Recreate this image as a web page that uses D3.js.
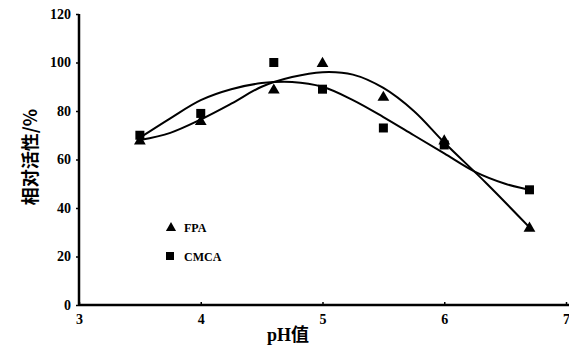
<!DOCTYPE html>
<html>
<head>
<meta charset="utf-8">
<script src="https://cdn.jsdelivr.net/npm/d3@7"></script>
<style>
  body { margin: 0; background: #fff; }
</style>
</head>
<body>
<div id="chart"></div>
<script>
// measured points
var ph = [3.5, 4, 4.6, 5, 5.5, 6, 6.7];
var fpa = [68, 76, 89, 100, 86, 68, 32];
var cmca = [70, 79, 100, 89, 73, 66, 47.5];

// trend lines
var fpaTrendX = [3.5, 3.75, 4, 4.25, 4.5, 4.75, 5, 5.25, 5.5, 5.75, 6, 6.35, 6.7];
var fpaTrendY = [68, 71, 76.5, 83, 90, 94, 96, 95, 89.5, 80, 67, 50, 32];
var cmcaTrendX = [3.5, 3.75, 4, 4.25, 4.5, 4.75, 5, 5.25, 5.5, 5.75, 6, 6.25, 6.5, 6.7];
var cmcaTrendY = [69, 77, 84.5, 89, 91.5, 92, 90, 84.5, 77.5, 70, 62.5, 55, 50, 47.5];

var xTicks = [3, 4, 5, 6, 7];
var yTicks = [0, 20, 40, 60, 80, 100, 120];

var w = 569, h = 351;
var mLeft = 79, mRight = 566, mTop = 14, mBottom = 305;
var tickFont = "Liberation Serif, serif";

var svg = d3.select("#chart").append("svg")
  .attr("width", w)
  .attr("height", h);

var x = d3.scaleLinear().domain([3, 7]).range([mLeft, mRight]);
var y = d3.scaleLinear().domain([0, 120]).range([mBottom, mTop]);

// axes
var xAxis = d3.axisBottom(x).tickValues(xTicks).tickSize(-3).tickPadding(9).tickFormat(d3.format("d"));
var yAxis = d3.axisLeft(y).tickValues(yTicks).tickSize(3).tickPadding(5);

var gx = svg.append("g")
  .attr("transform", "translate(0," + mBottom + ")")
  .call(xAxis);
gx.select(".domain").remove();
gx.selectAll(".tick line").attr("stroke-width", 1.5);

var gy = svg.append("g")
  .attr("transform", "translate(" + mLeft + ",0)")
  .call(yAxis);
gy.select(".domain").remove();
gy.selectAll(".tick line").attr("stroke-width", 1.5);

svg.selectAll(".tick text")
  .style("font-family", tickFont)
  .style("font-weight", "bold")
  .style("font-size", "14px");

svg.append("line")
  .attr("x1", mLeft).attr("x2", w)
  .attr("y1", mBottom).attr("y2", mBottom)
  .attr("stroke", "#000").attr("stroke-width", 2.5);
svg.append("line")
  .attr("x1", mLeft).attr("x2", mLeft)
  .attr("y1", mTop).attr("y2", mBottom)
  .attr("stroke", "#000").attr("stroke-width", 2.5);

// trend lines
var line = d3.line()
  .x(function(d) { return x(d[0]); })
  .y(function(d) { return y(d[1]); })
  .curve(d3.curveCatmullRom);

svg.append("path")
  .datum(d3.zip(fpaTrendX, fpaTrendY))
  .attr("d", line)
  .attr("fill", "none").attr("stroke", "#000").attr("stroke-width", 2);

svg.append("path")
  .datum(d3.zip(cmcaTrendX, cmcaTrendY))
  .attr("d", line)
  .attr("fill", "none").attr("stroke", "#000").attr("stroke-width", 2);

// markers
var tri = d3.symbol().type(d3.symbolTriangle).size(60);

svg.selectAll(".fpa")
  .data(d3.zip(ph, fpa))
  .enter().append("path")
  .attr("class", "fpa")
  .attr("d", tri)
  .attr("transform", function(d) { return "translate(" + x(d[0]) + "," + (y(d[1]) + 1) + ")"; })
  .attr("fill", "#000");

svg.selectAll(".cmca")
  .data(d3.zip(ph, cmca))
  .enter().append("rect")
  .attr("class", "cmca")
  .attr("x", function(d) { return x(d[0]) - 4.5; })
  .attr("y", function(d) { return y(d[1]) - 4.5; })
  .attr("width", 9).attr("height", 9)
  .attr("fill", "#000");

// legend
svg.append("path")
  .attr("d", d3.symbol().type(d3.symbolTriangle).size(45))
  .attr("transform", "translate(171,228)")
  .attr("fill", "#000");
svg.append("text")
  .attr("x", 184).attr("y", 232)
  .style("font-family", tickFont).style("font-weight", "bold").style("font-size", "12px")
  .text("FPA");
svg.append("rect")
  .attr("x", 166).attr("y", 252).attr("width", 8).attr("height", 8)
  .attr("fill", "#000");
svg.append("text")
  .attr("x", 184).attr("y", 261)
  .style("font-family", tickFont).style("font-weight", "bold").style("font-size", "12px")
  .text("CMCA");

// axis titles
svg.append("text")
  .attr("transform", "translate(37,157) rotate(-90)")
  .attr("text-anchor", "middle")
  .style("font-family", "Noto Sans CJK SC, sans-serif").style("font-weight", "bold").style("font-size", "18px")
  .text("相对活性/%");

svg.append("text")
  .attr("x", 288).attr("y", 341)
  .attr("text-anchor", "middle")
  .style("font-family", "Liberation Serif, Noto Sans CJK SC, serif").style("font-weight", "bold").style("font-size", "18px")
  .text("pH值");
</script>
</body>
</html>
